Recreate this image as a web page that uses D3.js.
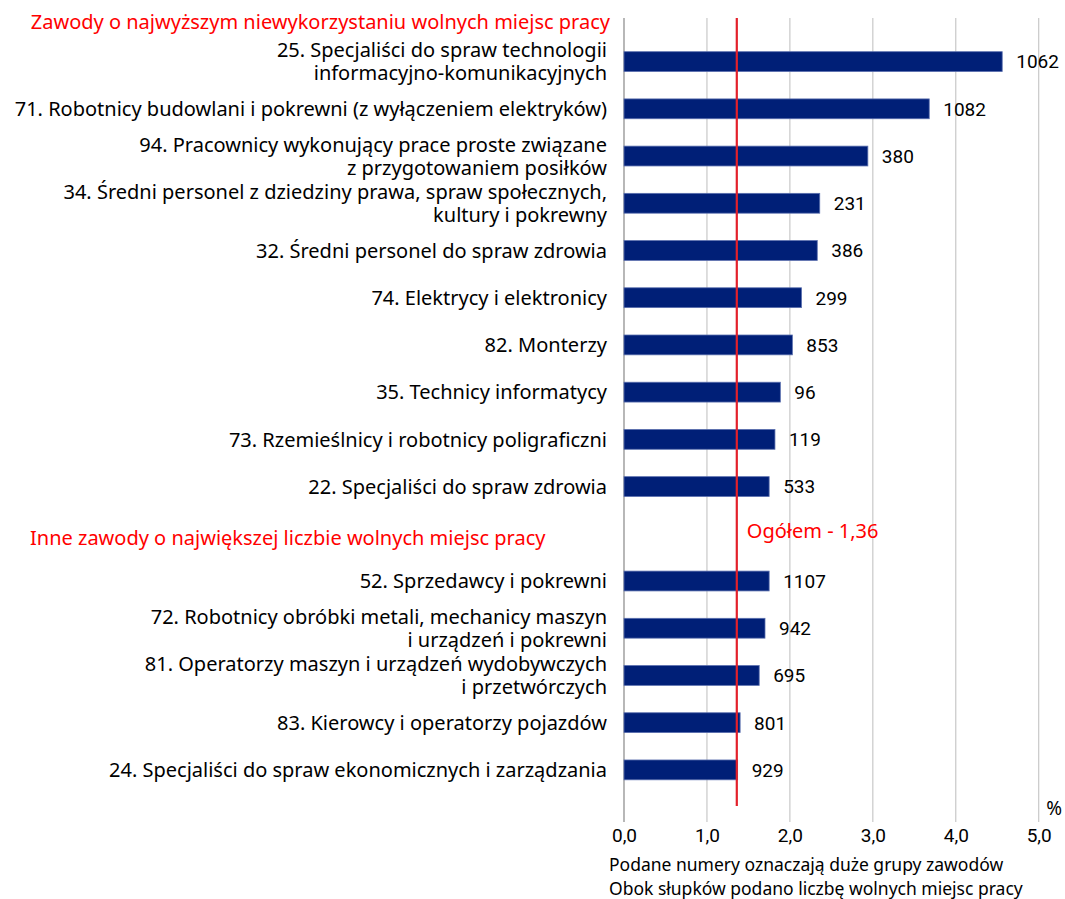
<!DOCTYPE html>
<html><head><meta charset="utf-8">
<script src="https://cdn.jsdelivr.net/npm/d3@7"></script>
<style>body{margin:0;background:#fff;} svg{display:block;} text{font-family:"Noto Sans",sans-serif;} .num{font-family:Roboto,sans-serif;}</style>
</head><body>
<svg id="c" width="1065" height="899"></svg>
<script>
const categories = [
  ["25. Specjaliści do spraw technologii", "informacyjno-komunikacyjnych"],
  ["71. Robotnicy budowlani i pokrewni (z wyłączeniem elektryków)"],
  ["94. Pracownicy wykonujący prace proste związane", "z przygotowaniem posiłków"],
  ["34. Średni personel z dziedziny prawa, spraw społecznych,", "kultury i pokrewny"],
  ["32. Średni personel do spraw zdrowia"],
  ["74. Elektrycy i elektronicy"],
  ["82. Monterzy"],
  ["35. Technicy informatycy"],
  ["73. Rzemieślnicy i robotnicy poligraficzni"],
  ["22. Specjaliści do spraw zdrowia"],
  null,
  ["52. Sprzedawcy i pokrewni"],
  ["72. Robotnicy obróbki metali, mechanicy maszyn", "i urządzeń i pokrewni"],
  ["81. Operatorzy maszyn i urządzeń wydobywczych", "i przetwórczych"],
  ["83. Kierowcy i operatorzy pojazdów"],
  ["24. Specjaliści do spraw ekonomicznych i zarządzania"]
];
const values = [4.56, 3.68, 2.94, 2.36, 2.33, 2.14, 2.03, 1.885, 1.82, 1.75, null, 1.75, 1.70, 1.63, 1.40, 1.37];
const vacancies = [1062, 1082, 380, 231, 386, 299, 853, 96, 119, 533, null, 1107, 942, 695, 801, 929];
const sectionTitles = ["Zawody o najwyższym niewykorzystaniu wolnych miejsc pracy", "Inne zawody o największej liczbie wolnych miejsc pracy"];
const totalValue = 1.36;
const totalLabel = "Ogółem - 1,36";
const xTicks = [0, 1, 2, 3, 4, 5];
const notes = ["Podane numery oznaczają duże grupy zawodów", "Obok słupków podano liczbę wolnych miejsc pracy"];

const svg = d3.select("#c");
const x = d3.scaleLinear().domain([0, 5]).range([624, 1038.7]);
const y = d3.scaleBand().domain(d3.range(categories.length)).range([38, 793.5]).paddingInner(0.58).paddingOuter(0.29);
const gridTop = 18, gridBottom = 822;
const FS = 20;

svg.append("g").selectAll("line").data(xTicks).join("line")
  .attr("x1", d => x(d)).attr("x2", d => x(d))
  .attr("y1", gridTop).attr("y2", gridBottom)
  .attr("stroke", d => d === 0 ? "#a6a6a6" : "#c8c8c8").attr("stroke-width", d => d === 0 ? 1.6 : 1.2);

const fmt = d => d3.format(".1f")(d).replace(".", ",");
const xAxis = d3.axisBottom(x).tickValues(xTicks).tickFormat(fmt).tickSize(0).tickPadding(0);
const ag = svg.append("g").attr("transform", `translate(0,${gridBottom})`).call(xAxis);
ag.select(".domain").remove();
ag.selectAll("text").attr("dy", null).attr("y", 20).attr("font-size", 19).attr("fill", "#000")
  .attr("class", "num").style("font-family", "Roboto, sans-serif");
svg.append("text").attr("x", 1062).attr("y", 815).attr("text-anchor", "end").attr("font-size", 19).text("%");

const rows = categories.map((c, i) => ({c, v: values[i], n: vacancies[i], i})).filter(d => d.c);

svg.append("g").selectAll("rect").data(rows).join("rect")
  .attr("x", x(0)).attr("y", d => y(d.i))
  .attr("width", d => x(d.v) - x(0)).attr("height", y.bandwidth())
  .attr("fill", "#001f77").attr("stroke", "#5a6fae").attr("stroke-width", 0.8);

svg.append("line").attr("x1", x(totalValue)).attr("x2", x(totalValue))
  .attr("y1", gridTop).attr("y2", 806).attr("stroke", "#e3202a").attr("stroke-width", 2.2);

svg.append("g").selectAll("text").data(rows).join("text").attr("class", "num")
  .attr("x", d => x(d.v) + 14).attr("y", d => y(d.i) + y.bandwidth() / 2)
  .attr("dy", "0.36em").attr("font-size", 19).attr("fill", "#000").text(d => d.n);

const lg = svg.append("g");
rows.forEach(d => {
  const cy = y(d.i) + y.bandwidth() / 2;
  const lh = 23;
  d.c.forEach((line, k) => {
    lg.append("text").attr("text-anchor", "end").attr("font-size", FS).attr("fill", "#000")
      .attr("x", 607)
      .attr("y", cy + (k - (d.c.length - 1) / 2) * lh).attr("dy", "0.36em").text(line);
  });
});

svg.append("text").attr("x", 610).attr("y", y(0) - 30).attr("dy", "0.36em").attr("text-anchor", "end")
  .attr("font-size", FS).attr("fill", "#ff0000").text(sectionTitles[0]);
svg.append("text").attr("x", 30).attr("y", y(10) + y.bandwidth() / 2 + 4).attr("dy", "0.36em")
  .attr("font-size", FS).attr("fill", "#ff0000").text(sectionTitles[1]);
svg.append("text").attr("x", x(totalValue) + 10).attr("y", y(10) + y.bandwidth() / 2 - 3).attr("dy", "0.36em")
  .attr("font-size", FS).attr("fill", "#ff0000").text(totalLabel);

svg.append("g").selectAll("text").data(notes).join("text")
  .attr("x", 609).attr("y", (d, i) => 865 + i * 24).attr("dy", "0.36em")
  .attr("font-size", 17.5).attr("fill", "#000").text(d => d);
</script>
</body></html>
